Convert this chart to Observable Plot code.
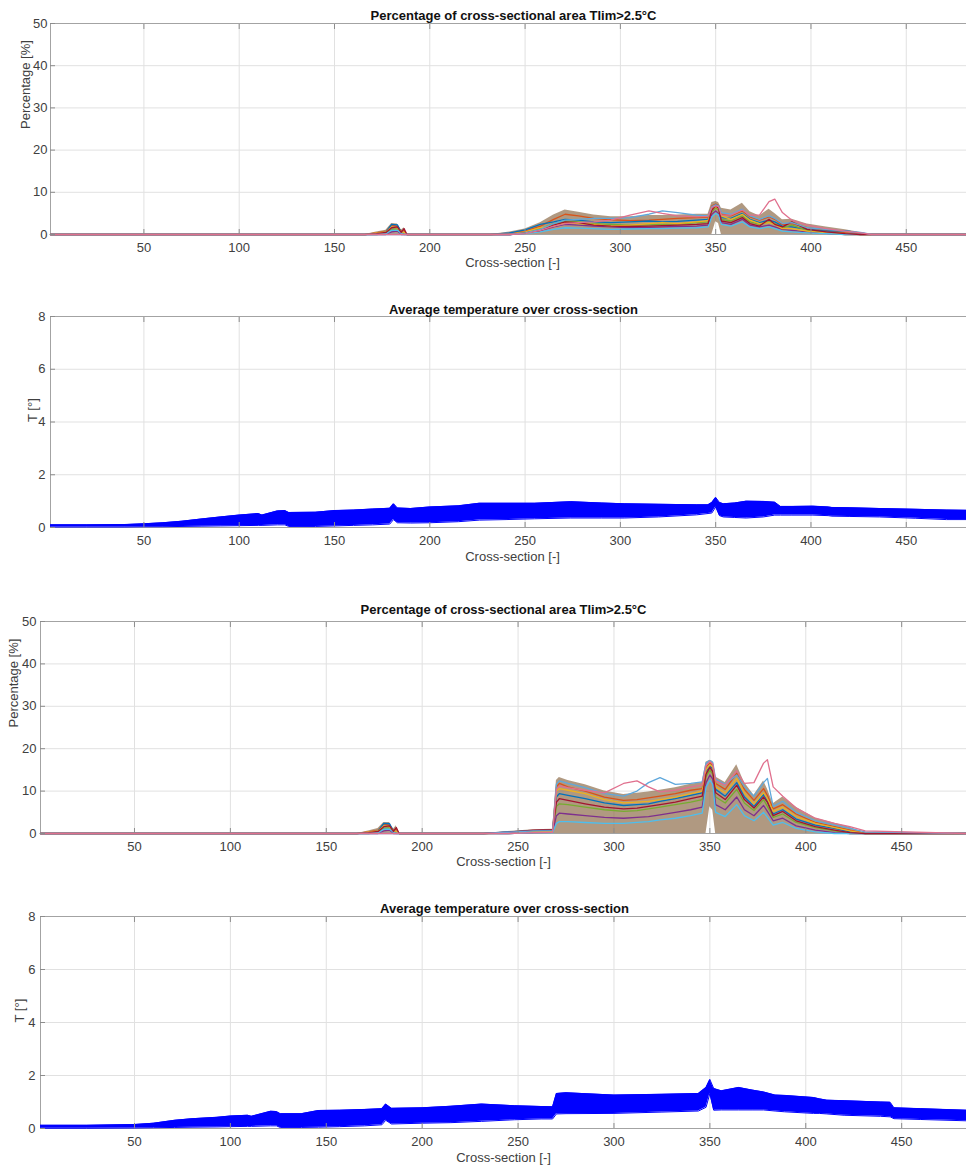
<!DOCTYPE html>
<html><head><meta charset="utf-8">
<script src="https://cdn.jsdelivr.net/npm/d3@7"></script>
<script src="https://cdn.jsdelivr.net/npm/@observablehq/plot@0.6"></script>
<style>
body{margin:0;background:#fff;}
#root{position:relative;width:966px;height:1165px;overflow:hidden;background:#fff;}
#root svg{position:absolute;left:0;}
</style></head><body><div id="root"></div>
<script>
// ---------- shared labels / ticks ----------
const xTicks = [50,100,150,200,250,300,350,400,450];
const pctTicks = [0,10,20,30,40,50];
const tempTicks = [0,2,4,6,8];
const titlePct = "Percentage of cross-sectional area Tlim>2.5°C";
const titleTemp = "Average temperature over cross-section";
const xLabel = "Cross-section [-]";
const yLabelPct = "Percentage [%]";
const yLabelTemp = "T [°]";
const curveColors = ["#D95319","#0072BD","#77AC30","#7E2F8E","#EDB120","#4DBEEE","#A2142F","#5fa8dc","#e0708e"];

// ---------- panel 1 : percentage (case A) ----------
const p1X = [1,166,172,177,180,183,185,186.5,188, 232,242,250,258,265,271,278,286,295,305, 315,322,330,340,346,348,350,351.5,353,358, 364,368,373,378,381,385,390,398,408,418, 426,432,482];
const p1Hi = [0,0,0.6,1.0,2.6,2.5,1.0,1.6,0, 0,0.6,1.3,2.8,4.6,5.8,5.3,4.6,4.2,4.2, 4.5,4.5,4.6,4.8,4.8,7.6,7.8,7.6,6.2,5.8, 7.4,5.4,4.4,6.0,5.0,3.5,3.6,2.5,1.8,1.1, 0.5,0,0];
const p1Lo = [0,0,0,0,0,0,0,0,0, 0,0,0,0,0,0,0,0,0,0, 0,0,0,0,0,0,3.0,2.6,0,0, 0,0,0,0,0,0,0,0,0,0, 0,0,0];
const p1A = [0,0,0.4,0.8,2.2,2.0,0.8,1.0,0, 0,0.2,0.8,2.0,3.6,4.8,4.4,3.8,3.5,3.3, 3.4,3.6,3.8,4.0,4.1,6.8,7.2,6.9,4.8,4.4, 5.6,4.2,3.4,4.2,3.6,2.4,2.6,1.6,1.0,0.4, 0,0,0];
const p1B = [0,0,0.2,0.6,2.4,2.3,0.6,0.4,0, 0,0.4,1.1,2.4,3.0,3.6,3.4,3.0,2.8,3.0, 3.2,3.0,3.1,3.4,3.6,6.2,7.0,6.6,4.0,3.8, 5.0,3.6,2.8,3.4,3.0,2.0,1.8,1.2,0.8,0.9, 0.3,0,0];
const p1C = [0,0,0,0.3,1.2,1.4,0.4,0.2,0, 0,0,0.5,1.4,2.6,3.2,3.0,2.6,2.4,2.2, 2.3,2.4,2.5,2.8,3.0,5.4,6.4,5.8,3.6,3.2, 4.4,3.0,2.4,3.0,2.6,1.6,2.2,1.0,0.5,0.2, 0,0,0];
const p1D = [0,0,0,0,0.6,0.8,0,0,0, 0,0,0.3,0.9,1.8,2.4,2.2,2.0,1.8,1.6, 1.7,1.8,1.9,2.0,2.2,4.8,5.6,5.0,2.8,2.4, 3.6,2.2,1.8,2.2,1.8,1.2,1.0,0.6,0.3,0, 0,0,0];
const p1E = [0,0,0.3,0.6,1.8,1.6,0.6,0.5,0, 0,0.1,0.6,1.6,2.0,2.8,2.6,2.4,2.0,2.2, 2.6,2.8,2.6,3.0,3.3,6.0,6.6,6.2,4.4,3.6, 4.8,3.4,2.6,2.8,2.4,1.4,1.4,0.8,0.4,0, 0,0,0];
const p1F = [0,0,0,0.2,1.0,1.0,0.3,0,0, 0,0,0.2,0.6,1.2,1.6,1.5,1.4,1.2,1.3, 1.4,1.4,1.5,1.6,1.8,4.2,5.0,4.6,2.4,2.0, 3.0,1.8,1.4,1.8,1.4,0.8,0.6,0.4,0.2,0, 0,0,0];
const p1G = [0,0,0.2,0.5,1.6,1.8,0.5,1.4,0, 0,0,0.4,1.0,2.2,3.0,2.8,2.2,2.0,1.9, 2.0,2.1,2.2,2.4,2.6,5.8,6.8,6.2,3.2,2.8, 4.0,2.6,2.0,3.6,2.4,1.8,3.0,1.2,0.6,0.2, 0,0,0];
const p1H = [0,0,0,0,0,0,0,0,0, 0,0,0.4,1.2,2.6,3.4,3.6,3.8,3.8,4.0, 4.8,5.6,5.2,4.6,4.4,6.6,7.0,6.8,5.2,4.8, 6.0,4.4,3.6,4.4,3.8,2.6,2.8,1.6,1.2,0.8, 0.5,0,0];
const p1P = [0,0,0,0,0,0,0,0,0, 0,0,0.2,1.0,2.0,2.6,2.8,3.0,3.4,4.6, 5.6,5.0,4.4,4.2,4.3,6.4,6.8,6.6,4.6,4.6, 5.8,4.6,4.6,7.8,8.4,5.2,3.4,2.2,1.4,0.8, 0.4,0,0];

// ---------- panel 2 : average temperature (case A) ----------
const t1X  = [1,20,40,50,60,70,80,90,100,110,112,120,124,126,140,150,160,170,179,181,183,190,200,215,226,240,255,274,290,302,320,340,346,348,350,352,354,360,366,375,381,384,390,401,409,411,420,436,455,471,482];
const t1Lo = [0.02,0.02,0.02,0.03,0.03,0.04,0.05,0.06,0.07,0.08,0.08,0.10,0.10,0.04,0.04,0.06,0.08,0.10,0.13,0.30,0.18,0.17,0.18,0.22,0.28,0.30,0.33,0.36,0.36,0.36,0.40,0.48,0.53,0.55,0.78,0.45,0.40,0.38,0.36,0.40,0.47,0.47,0.47,0.47,0.45,0.43,0.42,0.40,0.35,0.30,0.30];
const t1Hi = [0.10,0.10,0.11,0.14,0.18,0.24,0.32,0.40,0.47,0.53,0.47,0.63,0.64,0.57,0.58,0.64,0.66,0.70,0.73,0.90,0.74,0.72,0.78,0.82,0.92,0.92,0.92,0.98,0.93,0.90,0.88,0.86,0.86,0.95,1.14,0.95,0.90,0.93,1.00,0.99,0.96,0.80,0.80,0.81,0.78,0.76,0.75,0.72,0.69,0.66,0.65];

// ---------- panel 3 : percentage (case B) ----------
const p3X = [1,166,172,177,180,183,185,186.5,188, 232,245,258,268,270,271.5,276,285,295,305, 312,318,324,332,340,346,348,350,351.5,353, 358,364,368,373,378,380,383,388,395,405, 415,423,431,484];
const p3Hi = [0,0,0.6,1.2,2.6,2.6,1.0,1.8,0, 0,0.5,0.9,1.0,12.5,13.2,12.5,11.5,10.0,9.2, 9.5,9.8,10.2,10.8,11.6,12.0,16.8,17.3,17.0,13.3, 12.0,16.2,12.0,9.0,12.4,10.5,7.0,8.6,6.2,3.6, 2.4,1.5,0,0];
const p3Lo = [0,0,0,0,0,0,0,0,0, 0,0,0,0,0,0,0,0,0,0, 0,0,0,0,0,0,0,6.3,5.5,0, 0,0,0,0,0,0,0,0,0,0, 0,0,0,0];
const p3A = [0,0,0.4,0.8,2.2,2.0,0.8,1.0,0, 0,0.2,0.5,0.6,11.0,11.8,11.0,10.0,8.6,7.8, 8.0,8.4,8.8,9.4,10.2,10.6,15.8,16.6,16.2,11.8, 10.4,14.2,10.4,7.8,10.6,9.0,5.8,6.8,4.6,2.6, 1.6,0.8,0,0];
const p3B = [0,0,0.2,0.6,2.4,2.3,0.6,0.4,0, 0,0.4,0.7,0.8,8.6,9.4,9.0,8.2,7.2,6.6, 6.8,7.0,7.6,8.2,9.0,9.6,14.6,16.0,15.2,10.4, 8.8,12.0,8.6,6.4,9.2,7.6,4.6,5.6,3.4,2.0, 1.2,0.4,0,0];
const p3C = [0,0,0,0.3,1.2,1.4,0.4,0.2,0, 0,0,0.3,0.4,6.4,7.0,6.8,6.2,5.6,5.2, 5.4,5.8,6.2,6.8,7.4,8.0,13.4,15.0,14.0,8.6, 7.2,10.4,7.2,5.4,8.0,6.4,3.8,4.6,2.6,1.4, 0.6,0,0,0];
const p3D = [0,0,0,0,0.6,0.8,0,0,0, 0,0,0.2,0.3,4.2,4.8,4.6,4.2,3.8,3.6, 3.8,4.0,4.4,5.0,5.6,6.2,12.0,13.8,12.8,6.8, 5.6,8.6,5.6,4.2,6.6,5.2,3.0,3.6,1.8,0.8, 0.2,0,0,0];
const p3E = [0,0,0.3,0.6,1.8,1.6,0.6,0.5,0, 0,0.1,0.4,0.5,10.0,10.6,10.2,9.4,8.0,7.2, 7.4,7.6,8.0,8.6,9.4,10.0,15.0,16.2,15.6,11.0, 9.6,13.0,9.6,7.0,9.6,8.2,5.2,6.2,4.0,2.4, 1.4,0.6,0,0];
const p3F = [0,0,0,0.2,1.0,1.0,0.3,0,0, 0,0,0.2,0.2,2.4,2.8,2.8,2.6,2.4,2.4, 2.6,2.8,3.2,3.6,4.2,4.8,11.0,12.6,11.6,5.0, 4.0,6.8,4.2,3.0,5.0,3.8,2.0,2.6,1.2,0.4, 0,0,0,0];
const p3G = [0,0,0.2,0.5,1.6,1.8,0.5,1.4,0, 0,0.3,0.8,0.9,7.4,8.2,7.8,7.0,6.2,5.8, 6.0,6.4,6.8,7.4,8.2,8.8,14.0,15.6,14.6,9.6, 8.0,11.4,8.0,6.0,8.6,7.4,4.2,5.2,3.0,1.6, 0.8,0.2,0,0];
const p3H = [0,0,0,0,0,0,0,0,0, 0,0.3,0.6,0.7,11.6,12.4,11.8,10.8,9.4,8.8, 10.0,12.0,13.2,11.6,11.8,12.2,16.6,17.2,16.8,12.8, 11.6,13.8,11.0,8.8,12.0,13.0,6.4,7.6,5.0,3.0, 2.0,1.2,0.4,0];
const p3P = [0,0,0,0,0,0,0,0,0, 0,0,0.2,0.3,10.4,11.2,10.8,10.2,9.6,11.8, 12.4,11.0,9.8,10.2,11.0,11.4,16.0,17.0,16.4,12.4, 11.4,14.8,11.8,12.0,16.6,17.4,11.0,8.8,6.0,3.6, 2.4,1.6,0.6,0];

// ---------- panel 4 : average temperature (case B) ----------
const t2X  = [1,25,50,60,71,80,93,100,109,111,121,124,126,137,146,157,170,179,181,184,200,215,231,248,262,268,270,275,300,325,344,348,350,352,356,365,372,378,384,389,404,407,411,420,439,444,446,460,484];
const t2Lo = [0.01,0.01,0.02,0.03,0.04,0.05,0.06,0.07,0.08,0.08,0.10,0.10,0.04,0.04,0.05,0.07,0.10,0.14,0.31,0.17,0.20,0.22,0.27,0.33,0.36,0.36,0.55,0.56,0.57,0.62,0.66,0.80,1.32,0.69,0.70,0.70,0.70,0.70,0.66,0.63,0.57,0.57,0.55,0.50,0.46,0.44,0.37,0.34,0.29];
const t2Hi = [0.12,0.12,0.15,0.20,0.31,0.37,0.42,0.47,0.50,0.46,0.65,0.64,0.56,0.56,0.68,0.69,0.72,0.75,0.92,0.76,0.78,0.84,0.92,0.86,0.83,0.82,1.32,1.35,1.26,1.29,1.32,1.55,1.85,1.51,1.42,1.55,1.45,1.38,1.26,1.25,1.17,1.12,1.07,1.05,1.00,0.99,0.78,0.75,0.69];

// ---------- build tables ----------
function bandRows(xs, lo, hi) { return xs.map((x, i) => ({x, lo: lo[i], hi: hi[i]})); }
function curveRows(xs, curves) {
  const rows = [];
  curves.forEach((c, k) => xs.forEach((x, i) => rows.push({x, y: c[i], k, color: curveColors[k]})));
  return rows;
}

const FONT = "'Liberation Sans', Arial, Helvetica, sans-serif";
const root = document.getElementById("root");

function panel(cfg) {
  const svg = Plot.plot({
    width: 966, height: cfg.height,
    marginTop: cfg.mt, marginBottom: cfg.mb, marginLeft: cfg.ml, marginRight: 0,
    style: {fontFamily: FONT, fontSize: "13px", background: "white", overflow: "visible"},
    x: {domain: [1, cfg.xMax]},
    y: {domain: [0, cfg.yMax]},
    color: {type: "identity"},
    marks: [
      Plot.gridX(xTicks, {stroke: "#e1e1e1", strokeOpacity: 1}),
      Plot.gridY(cfg.yTicks, {stroke: "#e1e1e1", strokeOpacity: 1}),
      Plot.frame({stroke: "#a3a3a3"}),
      ...cfg.marks,
      Plot.axisX(xTicks, {anchor: "bottom", tickSize: 0, tickPadding: 8, fill: "#404040", label: null, fontSize: 13}),
      Plot.axisX(xTicks, {anchor: "bottom", tickSize: 5, dy: -5, fill: "none", stroke: "#8c8c8c"}),
      Plot.axisX(xTicks, {anchor: "top", tickSize: 5, dy: 5, fill: "none", stroke: "#8c8c8c"}),
      Plot.axisY(cfg.yTicks, {anchor: "left", tickSize: 0, tickPadding: cfg.yPad, fill: "#404040", label: null, fontSize: 13}),
      Plot.axisY(cfg.yTicks, {anchor: "left", tickSize: 5, dx: 5, fill: "none", stroke: "#8c8c8c"}),
      Plot.text([cfg.title], {frameAnchor: "top", lineAnchor: "middle", dx: cfg.titleDx, dy: cfg.titleDy, fontWeight: "bold", fontSize: 13, fill: "#111"}),
      Plot.text([xLabel], {frameAnchor: "bottom", lineAnchor: "middle", dx: cfg.xLabelDx, dy: cfg.xLabelDy, fontSize: 13, fill: "#404040"}),
      Plot.text([cfg.yLabel], {frameAnchor: "left", lineAnchor: "middle", rotate: -90, dx: cfg.yLabelDx, fontSize: 13, fill: "#404040"})
    ]
  });
  svg.style.top = cfg.top + "px";
  root.appendChild(svg);
}

function pctMarks(xs, lo, hi, curves) {
  return [
    Plot.areaY(bandRows(xs, lo, hi), {x: "x", y1: "lo", y2: "hi", fill: "#8f6d4c", fillOpacity: 0.7}),
    Plot.line(curveRows(xs, curves), {x: "x", y: "y", z: "k", stroke: "color", strokeWidth: 1.3})
  ];
}
function tempMarks(xs, lo, hi) {
  const rows = bandRows(xs, lo, hi);
  return [
    Plot.areaY(rows, {x: "x", y1: "lo", y2: "hi", fill: "#0000ff"}),
    Plot.line(rows, {x: "x", y: "hi", stroke: "#0000ff", strokeWidth: 1}),
    Plot.line(rows, {x: "x", y: "lo", stroke: "#0000ff", strokeWidth: 1})
  ];
}

panel({top: 0, height: 275, mt: 23, mb: 41, ml: 50, xMax: 481.6, yMax: 50, yTicks: pctTicks, yPad: 3,
  title: titlePct, titleDx: 5, titleDy: -8, yLabel: yLabelPct, yLabelDx: -25, xLabelDx: 4, xLabelDy: 28,
  marks: pctMarks(p1X, p1Lo, p1Hi, [p1A, p1B, p1C, p1D, p1E, p1F, p1G, p1H, p1P])});

panel({top: 280, height: 290, mt: 36, mb: 43, ml: 50, xMax: 481.6, yMax: 8, yTicks: tempTicks, yPad: 5,
  title: titleTemp, titleDx: 5, titleDy: -7, yLabel: yLabelTemp, yLabelDx: -18, xLabelDx: 4, xLabelDy: 29,
  marks: tempMarks(t1X, t1Lo, t1Hi)});

panel({top: 575, height: 295, mt: 46, mb: 37, ml: 40, xMax: 483.8, yMax: 50, yTicks: pctTicks, yPad: 4,
  title: titlePct, titleDx: 0, titleDy: -12, yLabel: yLabelPct, yLabelDx: -27, xLabelDx: 0, xLabelDy: 28,
  marks: pctMarks(p3X, p3Lo, p3Hi, [p3A, p3B, p3C, p3D, p3E, p3F, p3G, p3H, p3P])});

panel({top: 875, height: 290, mt: 41, mb: 37, ml: 40, xMax: 483.8, yMax: 8, yTicks: tempTicks, yPad: 5,
  title: titleTemp, titleDx: 1, titleDy: -8, yLabel: yLabelTemp, yLabelDx: -21, xLabelDx: 0, xLabelDy: 29,
  marks: tempMarks(t2X, t2Lo, t2Hi)});
</script>
</body></html>
